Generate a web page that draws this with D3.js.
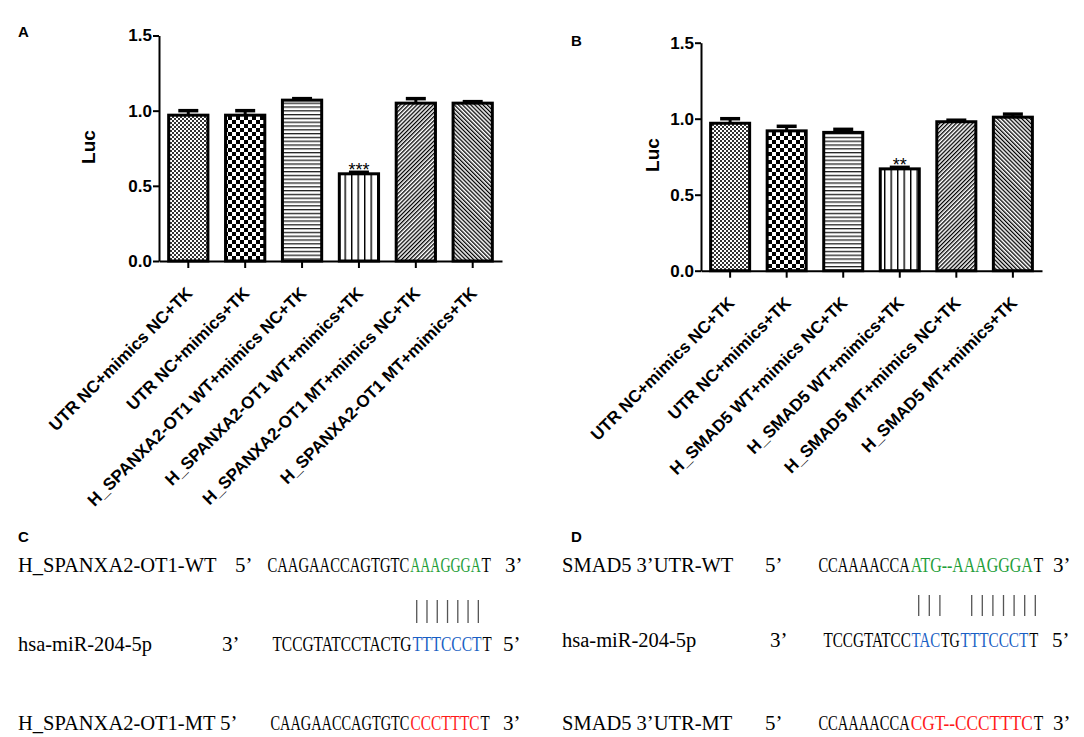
<!DOCTYPE html>
<html>
<head>
<meta charset="utf-8">
<script src="https://cdn.jsdelivr.net/npm/d3@7"></script>
<style>
  body { margin: 0; background: #fff; }
  .tick text { font-family: "Liberation Sans", Arial, sans-serif; font-weight: bold; font-size: 17px; fill: #000; }
  .tick line, .domain { stroke: #000; stroke-width: 2; }
</style>
</head>
<body>
<div id="content"></div>
<script>
// ---- data ----
var categoriesA = ["UTR NC+mimics NC+TK", "UTR NC+mimics+TK", "H_SPANXA2-OT1 WT+mimics NC+TK",
    "H_SPANXA2-OT1 WT+mimics+TK", "H_SPANXA2-OT1 MT+mimics NC+TK", "H_SPANXA2-OT1 MT+mimics+TK"];
var valuesA = [0.97, 0.97, 1.07, 0.58, 1.05, 1.05];
var errorsA = [0.03, 0.03, 0.01, 0.01, 0.03, 0.01];
var starsA = ["", "", "", "***", "", ""];

var categoriesB = ["UTR NC+mimics NC+TK", "UTR NC+mimics+TK", "H_SMAD5 WT+mimics NC+TK",
    "H_SMAD5 WT+mimics+TK", "H_SMAD5 MT+mimics NC+TK", "H_SMAD5 MT+mimics+TK"];
var valuesB = [0.97, 0.92, 0.91, 0.67, 0.98, 1.01];
var errorsB = [0.03, 0.03, 0.02, 0.01, 0.01, 0.02];
var starsB = ["", "", "", "**", "", ""];

var yTicks = [0, 0.5, 1.0, 1.5];
var patternIds = ["fineCheck", "check", "hLines", "vLines", "diagUp", "diagDown"];

// sequence panels: [text, colour] segments
var green = "#1f9e3a", blue = "#1a5fc4", red = "#ff1a1a";
var rowLabelsC = ["H_SPANXA2-OT1-WT", "hsa-miR-204-5p", "H_SPANXA2-OT1-MT"];
var primesC = [["5\u2019", "3\u2019"], ["3\u2019", "5\u2019"], ["5\u2019", "3\u2019"]];
var seqC = [
    [["CAAGAACCAGTGTC", "#000"], ["AAAGGGA", green], ["T", "#000"]],
    [["TCCGTATCCTACTG", "#000"], ["TTTCCCT", blue], ["T", "#000"]],
    [["CAAGAACCAGTGTC", "#000"], ["CCCTTTC", red], ["T", "#000"]]
];
var matchesC = [14, 15, 16, 17, 18, 19, 20];

var rowLabelsD = ["SMAD5 3\u2019UTR-WT", "hsa-miR-204-5p", "SMAD5 3\u2019UTR-MT"];
var primesD = [["5\u2019", "3\u2019"], ["3\u2019", "5\u2019"], ["5\u2019", "3\u2019"]];
var seqD = [
    [["CCAAAACCA", "#000"], ["ATG--AAAGGGA", green], ["T", "#000"]],
    [["TCCGTATCC", "#000"], ["TAC", blue], ["TG", "#000"], ["TTTCCCT", blue], ["T", "#000"]],
    [["CCAAAACCA", "#000"], ["CGT--CCCTTTC", red], ["T", "#000"]]
];
var matchesD = [9, 10, 11, 14, 15, 16, 17, 18, 19, 20];

// ---- svg ----
var width = 1084, height = 737;
var svg = d3.select("#content").append("svg").attr("width", width).attr("height", height);

var defs = svg.append("defs");
function pat(id, w, h, rot) {
    var p = defs.append("pattern").attr("id", id).attr("patternUnits", "userSpaceOnUse")
        .attr("width", w).attr("height", h);
    if (rot) p.attr("patternTransform", "rotate(" + rot + ")");
    p.append("rect").attr("width", w).attr("height", h).attr("fill", "#fff");
    return p;
}
var p1 = pat("fineCheck", 4, 4);
p1.append("rect").attr("width", 2).attr("height", 2).attr("fill", "#333");
p1.append("rect").attr("x", 2).attr("y", 2).attr("width", 2).attr("height", 2).attr("fill", "#333");
var p2 = pat("check", 8, 8);
p2.append("rect").attr("width", 4).attr("height", 4).attr("fill", "#000");
p2.append("rect").attr("x", 4).attr("y", 4).attr("width", 4).attr("height", 4).attr("fill", "#000");
pat("hLines", 4, 3.8).append("rect").attr("width", 4).attr("height", 1.3).attr("fill", "#222");
pat("vLines", 6.5, 4).append("rect").attr("width", 1.4).attr("height", 4).attr("fill", "#000");
pat("diagUp", 2.9, 4, 45).append("rect").attr("width", 1.3).attr("height", 4).attr("fill", "#000");
pat("diagDown", 2.9, 4, -45).append("rect").attr("width", 1.3).attr("height", 4).attr("fill", "#000");

function drawChart(cfg) {
    var g = svg.append("g");
    var x = d3.scaleBand().domain(cfg.categories).range([cfg.x0, cfg.x1])
        .paddingInner(0.31).paddingOuter(0.17);
    var y = d3.scaleLinear().domain([0, 1.5]).range([cfg.y0, cfg.y1]);

    g.selectAll(".bar").data(cfg.values).enter().append("rect")
        .attr("x", function (d, i) { return x(cfg.categories[i]); })
        .attr("y", function (d) { return y(d); })
        .attr("width", x.bandwidth())
        .attr("height", function (d) { return y(0) - y(d); })
        .attr("fill", function (d, i) { return "url(#" + patternIds[i] + ")"; })
        .attr("stroke", "#000").attr("stroke-width", 3);

    var cx = function (i) { return x(cfg.categories[i]) + x.bandwidth() / 2; };
    g.selectAll(".err").data(cfg.values).enter().append("line")
        .attr("x1", function (d, i) { return cx(i); }).attr("x2", function (d, i) { return cx(i); })
        .attr("y1", function (d) { return y(d); })
        .attr("y2", function (d, i) { return y(d + cfg.errors[i]); })
        .attr("stroke", "#000").attr("stroke-width", 3);
    g.selectAll(".cap").data(cfg.values).enter().append("line")
        .attr("x1", function (d, i) { return cx(i) - 10; }).attr("x2", function (d, i) { return cx(i) + 10; })
        .attr("y1", function (d, i) { return y(d + cfg.errors[i]); })
        .attr("y2", function (d, i) { return y(d + cfg.errors[i]); })
        .attr("stroke", "#000").attr("stroke-width", 3.5);

    g.selectAll(".star").data(cfg.stars).enter().append("text")
        .attr("x", function (d, i) { return cx(i); })
        .attr("y", function (d, i) { return y(cfg.values[i] + cfg.errors[i]) + 4; })
        .attr("text-anchor", "middle")
        .style("font-family", "Liberation Sans, Arial, sans-serif").style("font-size", "18px")
        .text(function (d) { return d; });

    g.append("g").attr("transform", "translate(" + cfg.x0 + ",0)")
        .call(d3.axisLeft(y).tickValues(yTicks).tickFormat(d3.format(".1f")).tickSize(6).tickSizeOuter(0).tickPadding(1));

    var xa = g.append("g").attr("transform", "translate(0," + cfg.y0 + ")")
        .call(d3.axisBottom(x).tickSizeInner(7).tickSizeOuter(0));
    xa.selectAll("text")
        .attr("text-anchor", "end")
        .attr("dy", "0.35em")
        .attr("transform", "translate(-6,22) rotate(-45)");

    g.append("text")
        .attr("transform", "translate(" + cfg.lucX + "," + cfg.lucY + ") rotate(-90)")
        .attr("text-anchor", "middle")
        .style("font-family", "Liberation Sans, Arial, sans-serif").style("font-weight", "bold").style("font-size", "19px")
        .text("Luc");

    g.append("text").attr("x", cfg.letterX).attr("y", cfg.letterY)
        .style("font-family", "Liberation Sans, Arial, sans-serif").style("font-weight", "bold").style("font-size", "15px")
        .text(cfg.letter);
}

drawChart({ categories: categoriesA, values: valuesA, errors: errorsA, stars: starsA,
    x0: 159, x1: 502, y0: 261, y1: 35.5, lucX: 95, lucY: 147, letter: "A", letterX: 18, letterY: 37 });
drawChart({ categories: categoriesB, values: valuesB, errors: errorsB, stars: starsB,
    x0: 701, x1: 1042, y0: 270.7, y1: 42.7, lucX: 659, lucY: 155, letter: "B", letterX: 571, letterY: 46 });

// ---- sequence panels ----
var serif = "Liberation Serif, Times New Roman, serif";

// squeeze a text horizontally so it fills exactly w pixels
function squeeze(sel, x, y, w) {
    sel.each(function () {
        var natural = this.getComputedTextLength();
        d3.select(this).attr("transform", "translate(" + x + "," + y + ") scale(" + (w / natural) + ",1)");
    });
}

function drawSeq(cfg) {
    var g = svg.append("g");
    g.append("text").attr("x", cfg.letterX).attr("y", cfg.letterY)
        .style("font-family", "Liberation Sans, Arial, sans-serif").style("font-weight", "bold").style("font-size", "15px")
        .text(cfg.letter);
    cfg.labels.forEach(function (lab, r) {
        var row = cfg.rows[r];
        var t = g.append("text")
            .style("font-family", serif).style("font-size", "20.5px").text(lab);
        if (row.labelLen) squeeze(t, cfg.labelX, row.base, row.labelLen);
        else t.attr("x", cfg.labelX).attr("y", row.base);
        g.append("text").attr("x", row.p1).attr("y", row.base)
            .style("font-family", serif).style("font-size", "21px").text(cfg.primes[r][0]);

        // each coloured run is its own text, placed on a fixed character pitch
        var starts = [], n = 0;
        cfg.seqs[r].forEach(function (s) { starts.push(n); n += s[0].length; });
        var pos = d3.scaleLinear().domain([0, n]).range([row.s, row.s + n * row.pitch]);
        g.selectAll(null).data(cfg.seqs[r]).enter().append("text")
            .attr("fill", function (d) { return d[1]; })
            .style("font-family", serif).style("font-size", "20px")
            .text(function (d) { return d[0]; })
            .each(function (d, i) {
                squeeze(d3.select(this), pos(starts[i]) + 0.4, row.base, pos(d[0].length) - pos(0) - 0.8);
            });

        g.append("text").attr("x", row.p2).attr("y", row.base)
            .style("font-family", serif).style("font-size", "21px").text(cfg.primes[r][1]);
    });
    var cx = d3.scaleLinear().domain([0, 22]).range([cfg.matchX0, cfg.matchX0 + 22 * cfg.matchPitch]);
    g.selectAll(".match").data(cfg.matches).enter().append("line")
        .attr("x1", function (d) { return cx(d + 0.5); }).attr("x2", function (d) { return cx(d + 0.5); })
        .attr("y1", cfg.matchY0).attr("y2", cfg.matchY1)
        .attr("stroke", "#555").attr("stroke-width", 1.3);
}

drawSeq({ letter: "C", letterX: 18, letterY: 542, labelX: 18, labels: rowLabelsC, primes: primesC, seqs: seqC,
    rows: [
        { base: 572, p1: 235, s: 267, pitch: 10.2, p2: 505 },
        { base: 651, p1: 222, s: 272, pitch: 10.0, p2: 503, labelLen: 134 },
        { base: 730, p1: 220, s: 270, pitch: 10.0, p2: 503 }
    ],
    matches: matchesC, matchX0: 267.8, matchPitch: 10.27, matchY0: 600, matchY1: 623 });

drawSeq({ letter: "D", letterX: 571, letterY: 542, labelX: 562, labels: rowLabelsD, primes: primesD, seqs: seqD,
    rows: [
        { base: 572, p1: 765, s: 818, pitch: 10.25, p2: 1053 },
        { base: 647, p1: 770, s: 823, pitch: 9.8, p2: 1052 },
        { base: 730, p1: 765, s: 818, pitch: 10.25, p2: 1053 }
    ],
    matches: matchesD, matchX0: 818, matchPitch: 10.6, matchY0: 595, matchY1: 616 });
</script>
</body>
</html>
